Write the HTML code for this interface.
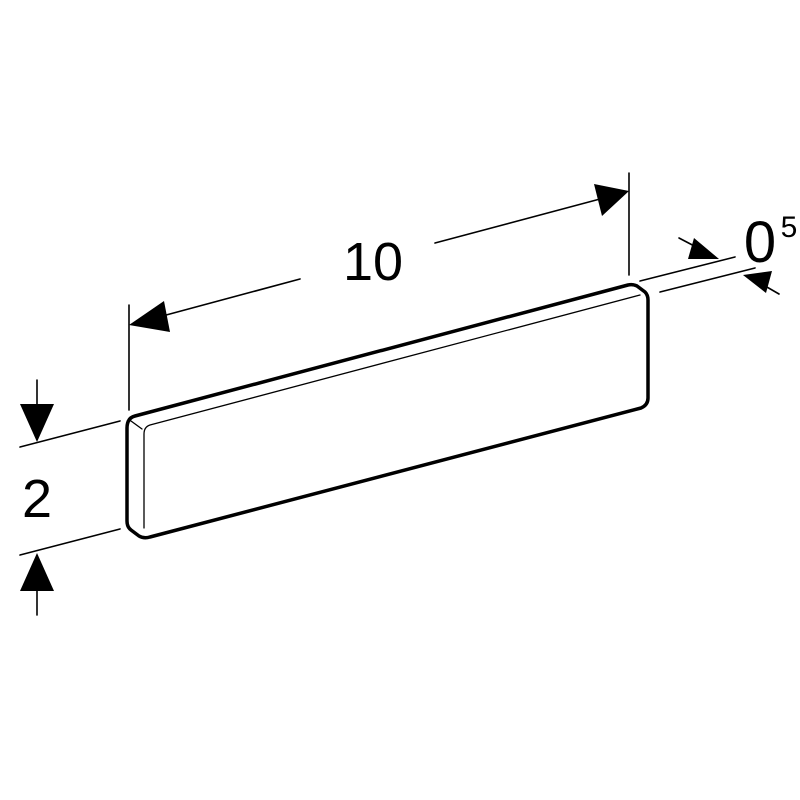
<!DOCTYPE html>
<html><head><style>body{margin:0;background:#fff}svg{display:block}</style></head><body>
<svg width="800" height="800" viewBox="0 0 800 800" xmlns="http://www.w3.org/2000/svg">
<rect width="800" height="800" fill="#fff"/>
<g fill="none" stroke="#000" stroke-linecap="round" stroke-linejoin="round">
<path d="M135,416 L628,285 Q633,284 637,286 L645,292 Q648,295 648,300 L648,398 Q648,405 641,408 L150,537 Q144,539 139,536 L131,530 Q127,527 127,521 L127,428 Q127,418 135,416 Z" stroke-width="3.5"/>
<path d="M640,295 L150,425 Q144,427 144,434 L144,528" stroke-width="1.3"/>
<path d="M131,421 L142,429" stroke-width="1.3"/>
<g stroke-width="1.6">
<line x1="129" y1="305" x2="129" y2="410"/>
<line x1="629" y1="173" x2="629" y2="275"/>
<line x1="20" y1="447" x2="120" y2="421"/>
<line x1="20" y1="555" x2="120" y2="529"/>
<line x1="37" y1="380" x2="37" y2="410"/>
<line x1="37" y1="585" x2="37" y2="615"/>
<line x1="640" y1="281" x2="735" y2="257"/>
<line x1="660" y1="292" x2="755" y2="268"/>
<line x1="679" y1="238" x2="700" y2="249"/>
<line x1="760" y1="283" x2="779" y2="294"/>
<line x1="155" y1="318" x2="300" y2="279"/>
<line x1="435" y1="243" x2="600" y2="199"/>
</g>
</g>
<g fill="#000">
<polygon points="129,325 164,301 170,332"/>
<polygon points="629,191 594,184 602,216"/>
<polygon points="37,442 20,404 54,404"/>
<polygon points="37,553 20,591 54,591"/>
<polygon points="719,259 694,238 688,259"/>
<polygon points="743,275 772,271 766,293"/>
</g>
<g font-family="Liberation Sans, sans-serif" fill="#000">
<text x="373" y="280" font-size="54" text-anchor="middle">10</text>
<text x="37" y="517" font-size="54" text-anchor="middle">2</text>
<text x="760" y="262" font-size="58" text-anchor="middle">0</text>
<text x="789" y="237" font-size="30" text-anchor="middle">5</text>
</g>
</svg>
</body></html>
